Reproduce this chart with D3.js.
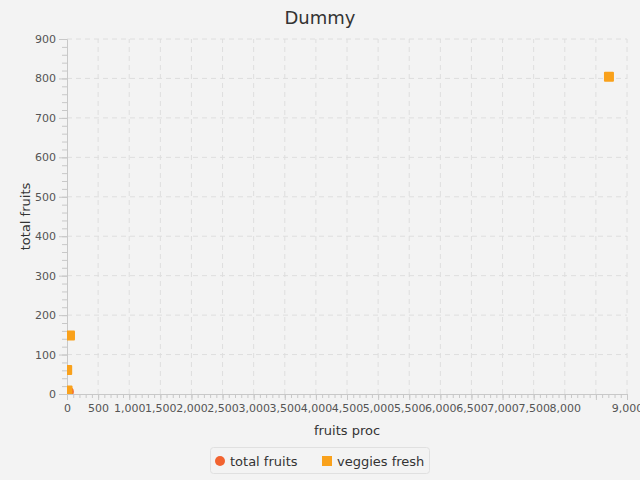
<!DOCTYPE html>
<html><head><meta charset="utf-8">
<script src="https://cdn.jsdelivr.net/npm/d3@7"></script>
<style>body{margin:0;background:#f3f3f3;} svg{display:block;}</style>
</head><body>
<script>
const title = "Dummy";
const xLabel = "fruits proc";
const yLabel = "total fruits";
const seriesNames = ["total fruits", "veggies fresh"];
const seriesColors = ["#f26330", "#f9a11b"];
const totalFruitsX = [30];
const totalFruitsY = [6];
const veggiesFreshX = [8710, 48, 3, 8];
const veggiesFreshY = [804, 148, 61, 9];
const xTicks = d3.range(0, 9001, 500);
const yTicks = d3.range(0, 901, 100);
const xHiddenLabels = [8500];

const W = 640, H = 480;
const m = {left: 67, right: 13, top: 39, bottom: 86};
const svg = d3.select("body").append("svg").attr("width", W).attr("height", H)
  .style("font-family", "DejaVu Sans, sans-serif");
svg.append("rect").attr("width", W).attr("height", H).attr("fill", "#f3f3f3");

const x = d3.scaleLinear().domain([0, 9000]).range([m.left, W - m.right]);
const y = d3.scaleLinear().domain([0, 900]).range([H - m.bottom, m.top]);

// grid
const g = svg.append("g");
g.selectAll(".gx").data(xTicks.filter(d => d > 0)).join("line")
  .attr("x1", d => x(d)).attr("x2", d => x(d)).attr("y1", y(0)).attr("y2", y(900))
  .attr("stroke", "#dedede").attr("stroke-dasharray", "5,4");
g.selectAll(".gy").data(yTicks.filter(d => d > 0)).join("line")
  .attr("y1", d => y(d)).attr("y2", d => y(d)).attr("x1", x(0)).attr("x2", x(9000))
  .attr("stroke", "#dedede").attr("stroke-dasharray", "5,4");

// axes
const xAxis = d3.axisBottom(x).tickValues(xTicks).tickSize(6).tickPadding(4)
  .tickFormat(d => xHiddenLabels.includes(d) ? "" : d3.format(",")(d));
const xa = svg.append("g").attr("transform", `translate(0,${y(0)})`).call(xAxis);
const xMinor = d3.axisBottom(x).tickValues(d3.range(0, 9001, 100)).tickSize(4).tickFormat("");
const xm = svg.append("g").attr("transform", `translate(0,${y(0)})`).call(xMinor);
const yAxis = d3.axisLeft(y).tickValues(yTicks).tickSize(8).tickPadding(3);
const ya = svg.append("g").attr("transform", `translate(${x(0)},0)`).call(yAxis);
const yMinor = d3.axisLeft(y).tickValues(d3.range(0, 901, 20)).tickSize(5).tickFormat("");
const ym = svg.append("g").attr("transform", `translate(${x(0)},0)`).call(yMinor);
[xa, xm, ya, ym].forEach(a => {
  a.selectAll("path").attr("stroke", "#c8c8c8");
  a.selectAll("line").attr("stroke", "#c8c8c8");
  a.selectAll("text").attr("fill", "#555").style("font-size", "11px").style("font-family", "DejaVu Sans, sans-serif");
});
xm.select("path").remove(); ym.select("path").remove();

// clip
svg.append("clipPath").attr("id", "clip").append("rect")
  .attr("x", m.left).attr("y", m.top).attr("width", W - m.left - m.right).attr("height", H - m.top - m.bottom);
const pts = svg.append("g").attr("clip-path", "url(#clip)");
const vf = veggiesFreshX.map((d, i) => ({x: d, y: veggiesFreshY[i]}));
const tf = totalFruitsX.map((d, i) => ({x: d, y: totalFruitsY[i]}));
pts.selectAll(".c").data(tf).join("circle")
  .attr("cx", d => x(d.x)).attr("cy", d => y(d.y)).attr("r", 5).attr("fill", seriesColors[0]);
pts.selectAll(".s").data(vf).join("rect")
  .attr("x", d => x(d.x) - 5).attr("y", d => y(d.y) - 5).attr("width", 10).attr("height", 10)
  .attr("rx", 1).attr("fill", seriesColors[1]);

// title & labels
svg.append("text").attr("x", 320).attr("y", 24).attr("text-anchor", "middle")
  .style("font-size", "18px").attr("fill", "#333").text(title);
svg.append("text").attr("x", (x(0) + x(9000)) / 2).attr("y", 435).attr("text-anchor", "middle")
  .style("font-size", "13px").attr("fill", "#333").text(xLabel);
svg.append("text").attr("transform", `translate(30,${(y(0) + y(900)) / 2}) rotate(-90)`)
  .attr("text-anchor", "middle").style("font-size", "13px").attr("fill", "#333").text(yLabel);

// legend
const lg = svg.append("g");
lg.append("rect").attr("x", 210.5).attr("y", 447.5).attr("width", 219).attr("height", 26).attr("rx", 3)
  .attr("fill", "#f3f3f3").attr("stroke", "#e0e0e0");
lg.append("circle").attr("cx", 220).attr("cy", 461).attr("r", 5).attr("fill", seriesColors[0]);
lg.append("text").attr("x", 230).attr("y", 465.5).style("font-size", "13px").attr("fill", "#333").text(seriesNames[0]);
lg.append("rect").attr("x", 322).attr("y", 456).attr("width", 10).attr("height", 10).attr("fill", seriesColors[1]);
lg.append("text").attr("x", 337).attr("y", 465.5).style("font-size", "13px").attr("fill", "#333").text(seriesNames[1]);
</script>
</body></html>
